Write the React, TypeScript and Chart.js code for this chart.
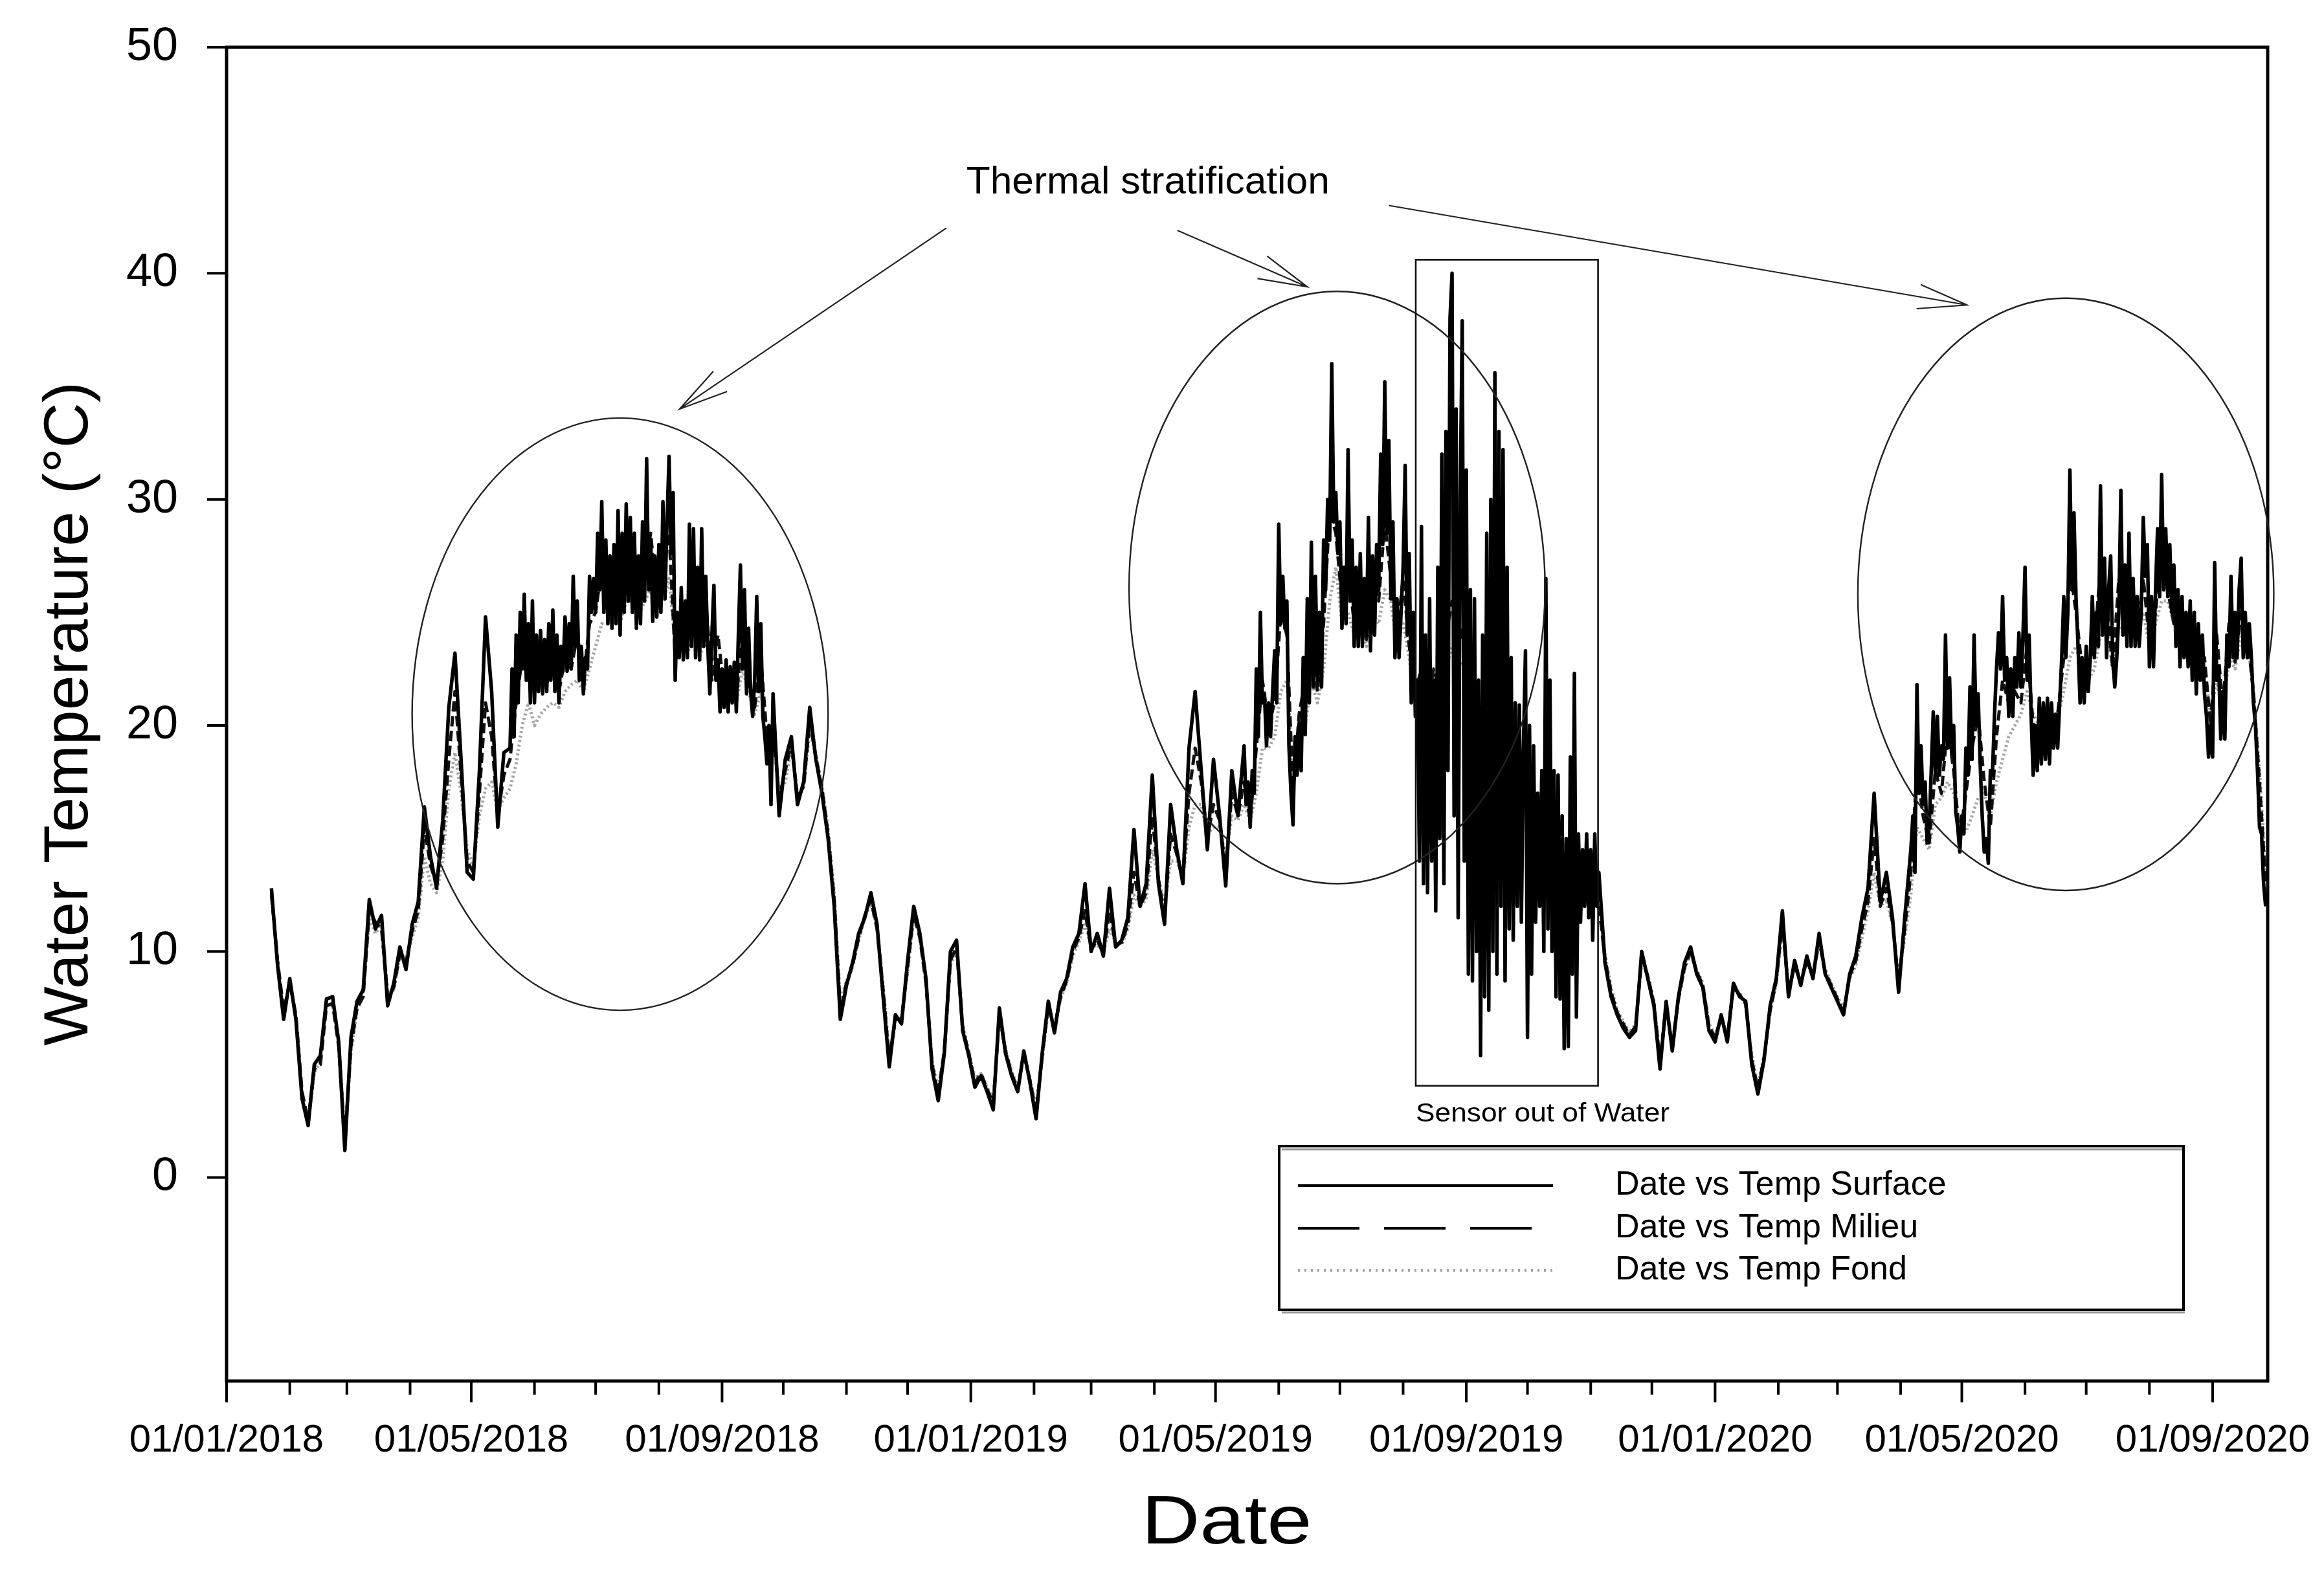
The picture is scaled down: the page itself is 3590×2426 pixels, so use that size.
import React, { useEffect, useRef } from 'react';
import { Chart, registerables } from 'chart.js';

Chart.register(...registerables);

const W = 3590;
const H = 2426;
const FONT = '"Liberation Sans", Arial, Helvetica, sans-serif';

// ---- axis definitions (x = days counted from 01/01/2018) ----
const X_MIN = 0;
const X_MAX = 1001;
const Y_MIN = -9;
const Y_MAX = 50;
const Y_TICKS = [0, 10, 20, 30, 40, 50];
const X_TICK_DAYS = [0, 120, 243, 365, 485, 608, 730, 851, 974];
const X_TICK_LABELS = [
  '01/01/2018', '01/05/2018', '01/09/2018',
  '01/01/2019', '01/05/2019', '01/09/2019',
  '01/01/2020', '01/05/2020', '01/09/2020',
];

const SERIES_LABELS = ['Date vs Temp Surface', 'Date vs Temp Milieu', 'Date vs Temp Fond'];

// ---- sampling: 3-day grid from 23/01/2018 (day 22); surface read daily in summers ----
const FIRST_DAY = 22;
const STEP_DAYS = 3;

// Surface, 3-day, 23/01/2018 -> 17/05/2018 (days 22..136)
const SURFACE_SPRING_2018 = [
  12.8, 9.4, 7.0, 8.8, 7.0, 3.5, 2.3, 5.0, 5.4, 7.9, 8.0, 6.0, 1.2, 6.2, 7.8, 8.3, 12.3, 11.0, 11.6, 7.6,
  8.6, 10.2, 9.2, 11.2, 12.2, 16.4, 14.2, 12.8, 15.8, 20.8, 23.2, 18.5, 13.5, 13.2, 18.0, 24.8, 21.5, 15.5, 18.8,
];

// Surface, daily, 20/05/2018 -> 26/09/2018 (days 139..268)
const SURFACE_SUMMER_2018 = [
  19.0, 22.5, 19.5, 24.0, 21.0, 25.0, 22.5, 25.8, 22.0, 24.5,
  21.0, 25.5, 21.0, 24.0, 21.5, 24.2, 21.4, 23.8, 21.5, 24.5,
  22.0, 25.1, 21.5, 24.0, 21.0, 23.5, 22.4, 24.8, 22.4, 24.5,
  22.5, 26.6, 23.5, 25.5, 22.0, 23.5, 21.4, 23.0, 22.5, 26.6,
  25.0, 26.5, 25.0, 28.5, 26.0, 29.9, 25.0, 28.2, 24.5, 27.5,
  24.3, 28.0, 24.5, 29.5, 24.0, 28.5, 25.0, 29.8, 25.5, 29.2,
  25.0, 28.5, 24.3, 27.5, 24.5, 29.0, 25.5, 31.8, 26.0, 28.2,
  24.6, 27.5, 24.8, 28.0, 25.0, 29.9, 25.6, 29.0, 31.9, 27.6,
  30.3, 22.0, 25.0, 23.0, 26.1, 22.9, 25.5, 23.0, 28.9, 23.5,
  28.7, 23.0, 27.0, 22.9, 28.7, 23.5, 26.6, 23.5, 21.4, 24.0,
  26.2, 22.0, 22.9, 20.6, 22.5, 20.8, 22.9, 20.6, 22.6, 21.0,
  22.8, 20.6, 24.0, 27.1, 22.5, 26.0, 21.4, 24.3, 21.5, 20.4,
  22.0, 25.7, 21.5, 24.5, 20.4, 19.5, 18.3, 20.0, 16.5, 21.4,
];

// Surface, 3-day, 29/09/2018 -> 12/05/2019 (days 271..496)
const SURFACE_WINTER_2019 = [
  16.0, 18.5,
  19.5, 16.5, 17.5, 20.8, 18.5, 17.0, 15.0, 12.0, 7.0, 8.5, 9.5, 10.8, 11.5, 12.6, 11.2, 8.0, 4.9, 7.2, 6.8, 9.6,
  12.0, 10.8, 8.8, 4.8, 3.4, 5.5, 10.0, 10.5, 6.5, 5.4, 4.0, 4.5, 3.8, 3.0, 7.5, 5.5, 4.5, 3.8, 5.6, 4.2, 2.6, 5.5,
  7.8, 6.4, 8.2, 8.8, 10.2, 10.8, 13.0, 10.0, 10.8, 9.8, 12.8, 10.2, 10.5, 11.5, 15.4, 12.0, 13.0, 17.8, 13.0, 11.2,
  16.5, 14.5, 13.0, 19.0, 21.5, 18.0, 14.5, 18.5, 16.0, 12.9, 18.0, 16.0,
];

// Surface, daily, 15/05/2019 -> 05/11/2019 (days 499..673, sensor out of water from 08/08)
const SURFACE_SUMMER_2019 = [
  19.1, 16.5, 17.5, 15.5, 18.0, 17.0, 22.5, 19.5, 25.0, 21.0,
  21.4, 19.1, 21.0, 19.5, 21.5, 23.3, 21.0, 28.9, 24.5, 26.6,
  24.3, 25.5, 19.1, 17.0, 15.6, 19.5, 17.8, 20.1, 18.0, 23.0,
  19.6, 25.6, 21.0, 28.1, 21.7, 26.6, 22.0, 25.0, 21.7, 28.2,
  26.0, 30.0, 28.2, 36.0, 29.0, 30.3, 27.6, 29.0, 24.3, 27.0,
  24.5, 32.2, 25.5, 28.2, 23.5, 27.0, 23.5, 27.6, 23.5, 26.5,
  24.0, 29.2, 23.3, 27.5, 24.0, 28.0, 26.0, 32.0, 28.0, 35.2,
  28.5, 32.6, 25.6, 29.0, 23.0, 25.6, 23.0, 25.0, 27.0, 31.5,
  24.0, 27.6, 21.0, 25.0, 20.4,
  22, 14, 28.8, 13, 24, 12.6, 25.6, 14, 22, 11.8,
  27, 15, 32, 13, 33, 18, 38, 40, 16, 34,
  11.5, 30, 37.9, 14, 31.3, 9, 26, 8.7, 25.6, 10,
  22, 5.4, 24, 8, 28.5, 7.4, 30, 10, 35.6, 9.0,
  33, 12, 32.2, 8.7, 27, 11, 23, 10.5, 21, 12,
  20.9, 11.3, 19, 23.3, 6.2, 20, 9, 19.1, 11.3, 17,
  12, 18, 10, 26.5, 11, 22, 10.0, 18, 8, 17.8,
  7.9, 16, 5.7, 15, 5.8, 18.6, 9, 22.3, 7.1, 15.2,
  11.3, 14.5, 12, 15.2, 11.5, 14.5, 10.5, 15.2, 12, 13.5,
];

// Surface, 3-day, 08/11/2019 -> 02/04/2020 (days 676..823)
const SURFACE_WINTER_2020 = [
  9.5, 8.0, 7.2, 6.6, 6.2, 6.5, 10.0, 8.8, 7.6, 4.8, 7.8, 5.6, 8.0, 9.5, 10.2, 9.0, 8.4, 6.5, 6.0, 7.2,
  6.0, 8.6, 8.0, 7.8, 5.0, 3.7, 5.2, 7.6, 8.8, 11.8, 8.0, 9.6, 8.5, 9.8, 8.8, 10.8,
  9.0, 8.4, 7.8, 7.2, 9.0, 9.8, 11.5, 12.8, 17.0, 12.2, 13.5, 11.5, 8.2, 11.5,
];

// Surface, daily, 05/04/2020 -> 26/09/2020 (days 826..1000)
const SURFACE_SUMMER_2020 = [
  14.5, 16.0, 13.5, 21.8, 17.0, 19.1, 16.5, 17.5, 14.8, 15.5,
  18.0, 20.6, 17.8, 20.4, 17.8, 19.1, 18.5, 24.0, 19.0, 22.1,
  18.8, 20.0, 16.2, 15.5, 14.4, 16.0, 15.2, 19.0, 17.8, 21.7,
  18.5, 24.0, 20.0, 21.4, 18.3, 16.0, 14.4, 15.0, 13.9, 18.0,
  17.8, 20.4, 22.5, 24.1, 22.5, 25.7, 22.0, 23.0, 20.4, 22.5,
  20.4, 23.0, 21.7, 24.1, 21.7, 24.0, 27.0, 22.0, 24.0, 20.4,
  17.8, 20.0, 18.0, 21.2, 18.3, 21.0, 18.5, 21.2, 18.3, 21.0,
  19.0, 20.5, 19.0, 21.0, 23.0, 25.7, 23.0, 25.0, 31.3, 26.0,
  29.4, 25.7, 23.5, 21.0, 23.0, 21.0, 23.5, 21.5, 23.0, 25.7,
  23.0, 25.0, 23.5, 30.6, 24.0, 27.4, 23.0, 26.0, 27.5, 23.0,
  21.7, 23.0, 25.0, 30.4, 24.0, 27.1, 23.5, 28.5, 23.5, 26.5,
  23.5, 25.7, 23.5, 25.0, 29.2, 26.6, 28.0, 22.6, 25.7, 22.6,
  26.0, 28.7, 25.7, 31.1, 26.0, 28.7, 25.7, 28.0, 25.0, 27.1,
  23.5, 26.0, 22.6, 25.7, 23.0, 25.0, 22.6, 25.5, 22.0, 25.0,
  21.4, 24.5, 22.0, 24.0, 21.4, 20.4, 18.6, 20.0, 18.6, 27.2,
  22.0, 22.6, 19.4, 21.5, 19.4, 24.0, 22.6, 26.6, 23.0, 25.0,
  23.0, 26.0, 27.4, 23.0, 25.0, 23.0, 24.5, 23.0, 21.0, 20.0,
  18.0, 15.5, 15.2, 13.0, 12.0,
];

// Milieu, 3-day grid, 23/01/2018 -> 27/09/2020
const MILIEU = [
  12.5, 9.6, 7.4, 8.6, 7.2, 3.8, 2.5, 4.8, 5.0, 7.6, 7.7, 5.8, 1.6, 5.8, 7.5, 8.0, 11.8, 11.3, 11.0, 8.0, 8.4, 9.9,
  9.5, 10.9, 11.8, 15.5, 13.8, 13.0, 15.0, 18.5, 21.5, 17.8, 14.0, 13.5, 17.0, 21.0, 19.5, 16.0, 17.8, 18.5, 21.0, 23.0, 22.0,
  21.8, 22.5, 21.8, 23.0, 21.5, 23.0, 22.5, 24.0, 22.0, 24.5, 25.0, 27.0, 25.5, 26.5, 25.0, 27.0, 27.5, 25.0, 27.0, 28.5,
  25.5, 27.5, 28.5, 23.0, 25.0, 23.5, 26.0, 23.5, 25.5, 22.0, 24.0, 21.5, 22.0, 21.0, 24.5, 22.0, 20.8, 23.0, 19.5, 20.0, 16.8, 18.0,
  19.2, 16.8, 17.3, 20.2, 18.6, 17.2, 15.2, 12.3, 7.4, 8.6, 9.4, 10.6, 11.6, 12.3, 11.0, 8.3, 5.2, 7.0, 7.0, 9.3,
  11.7, 10.6, 8.6, 5.0, 3.7, 5.6, 9.6, 10.2, 6.6, 5.5, 4.2, 4.6, 3.9, 3.3, 7.2, 5.6, 4.6, 3.9, 5.5, 4.3, 2.9, 5.4,
  7.6, 6.6, 8.0, 8.7, 10.0, 10.6, 11.8, 10.1, 10.5, 9.9, 11.8, 10.3, 10.4, 11.2, 13.5, 12.0, 12.6, 16.0, 13.2, 11.6,
  15.2, 14.3, 13.2, 17.0, 19.0, 17.5, 15.0, 16.5, 15.8, 13.6, 17.0, 16.0, 17.5, 15.8, 19.0, 22.0, 20.0, 21.0, 25.0, 24.0, 17.0, 20.5, 22.0,
  24.0, 21.5, 24.5, 29.5, 28.5, 25.5, 27.0, 24.5, 25.5, 23.8, 26.5, 25.5, 29.0, 26.5, 24.0, 26.5, 23.5, 21.5, 22.5, 21.0,
  22.5, 21.5, 24.0, 25.5, 23.5, 24.5, 21.5, 20.5, 19.0, 21.0, 23.0, 20.0, 19.0, 17.5, 17.0, 18.0, 16.0, 16.5, 15.5, 16.5,
  15.0, 14.5, 14.0, 15.5, 13.5, 14.0, 13.0, 12.0,
  9.7, 8.2, 7.3, 6.8, 6.3, 6.7, 9.7, 8.9, 7.7, 5.1, 7.6, 5.8, 7.9, 9.3, 10.0, 9.1, 8.5, 6.7, 6.2, 7.1,
  6.2, 8.4, 8.1, 7.7, 5.2, 3.9, 5.3, 7.4, 8.7, 11.3, 8.2, 9.4, 8.6, 9.6, 8.9, 10.5,
  9.1, 8.5, 7.9, 7.3, 8.9, 9.6, 11.0, 12.2, 15.0, 12.0, 12.8, 11.3, 8.6, 11.0, 13.5, 18.0, 16.0, 14.8, 18.0, 17.0,
  20.0, 18.0, 15.0, 17.0, 19.0, 20.5, 17.5, 15.5, 19.5, 22.0, 21.0, 21.5, 21.0, 23.5, 20.0, 19.5, 20.5, 19.8, 20.5, 23.0,
  27.0, 25.0, 22.5, 22.5, 23.5, 27.0, 25.5, 22.5, 26.5, 24.0, 26.0, 24.0, 26.5, 23.8, 25.0, 28.0, 26.0, 24.5, 25.5, 23.5,
  24.0, 22.5, 23.0, 20.0, 24.0, 20.8, 24.5, 22.8, 25.0, 24.0, 21.5, 17.5, 13.0,
];

// Fond, 3-day grid, 23/01/2018 -> 27/09/2020
const FOND = [
  12.6, 9.5, 7.2, 8.7, 7.0, 3.6, 2.4, 4.6, 5.2, 7.7, 7.6, 6.1, 1.8, 5.5, 7.4, 8.1, 11.5, 10.8, 11.2, 8.2, 8.3, 9.8,
  9.8, 10.6, 11.5, 14.2, 13.0, 12.6, 14.0, 17.2, 18.8, 17.0, 14.5, 13.8, 16.0, 17.2, 17.5, 16.2, 16.8, 17.2, 18.3, 20.0, 21.0,
  20.0, 20.5, 20.8, 21.0, 20.8, 21.5, 21.8, 22.0, 21.5, 22.5, 23.5, 24.5, 24.5, 25.0, 24.5, 25.5, 25.5, 24.8, 25.5, 26.0,
  25.0, 25.5, 26.5, 23.5, 23.8, 23.2, 24.0, 23.0, 24.0, 22.0, 22.5, 21.2, 21.5, 21.0, 22.5, 21.5, 20.5, 21.5, 19.5, 19.8, 17.0, 17.5,
  19.0, 17.0, 17.2, 19.8, 18.7, 17.4, 15.4, 12.6, 7.8, 8.7, 9.3, 10.5, 11.5, 12.1, 11.1, 8.5, 5.5, 6.9, 7.1, 9.1,
  11.5, 10.7, 8.7, 5.2, 3.9, 5.6, 9.4, 10.0, 6.8, 5.6, 4.4, 4.6, 4.0, 3.5, 7.0, 5.7, 4.7, 4.0, 5.4, 4.4, 3.1, 5.2,
  7.5, 6.7, 7.9, 8.6, 9.8, 10.4, 11.2, 10.2, 10.3, 10.0, 11.0, 10.4, 10.3, 11.0, 12.5, 12.0, 12.3, 14.5, 13.3, 12.0,
  14.0, 14.0, 13.3, 15.5, 16.5, 16.5, 15.2, 15.5, 15.5, 14.2, 16.0, 15.8, 16.5, 15.8, 17.0, 19.0, 19.0, 19.5, 21.5, 22.0, 18.0, 19.0, 20.0,
  22.0, 21.0, 22.5, 25.5, 27.0, 24.5, 25.0, 24.0, 24.5, 23.5, 25.0, 24.5, 26.0, 25.5, 23.5, 24.5, 23.0, 21.0, 21.5, 20.5,
  21.5, 21.0, 22.5, 23.5, 22.5, 23.0, 21.0, 20.0, 19.5, 20.0, 21.5, 19.5, 18.5, 17.5, 16.8, 17.0, 16.2, 16.0, 15.5, 15.8,
  15.0, 14.8, 14.2, 14.5, 13.8, 13.8, 13.2, 12.2,
  9.9, 8.4, 7.4, 6.9, 6.4, 6.8, 9.5, 9.0, 7.8, 5.3, 7.5, 5.9, 7.8, 9.2, 9.9, 9.2, 8.6, 6.8, 6.3, 7.0,
  6.3, 8.3, 8.2, 7.6, 5.4, 4.1, 5.4, 7.3, 8.6, 11.0, 8.3, 9.3, 8.7, 9.5, 9.0, 10.3,
  9.2, 8.6, 8.0, 7.5, 8.8, 9.4, 10.6, 11.8, 13.5, 12.0, 12.3, 11.2, 8.9, 10.6, 12.5, 15.5, 15.0, 14.5, 16.5, 16.8,
  17.5, 17.0, 15.5, 15.3, 16.0, 16.8, 17.0, 16.0, 17.5, 18.5, 19.5, 20.0, 20.5, 21.5, 20.5, 20.0, 20.3, 20.0, 20.3, 21.5,
  23.0, 23.5, 22.5, 22.0, 22.5, 24.0, 24.5, 22.5, 24.5, 24.0, 25.0, 24.0, 25.0, 23.5, 24.5, 25.5, 25.5, 24.5, 25.0, 23.5,
  23.5, 22.5, 22.5, 20.5, 22.0, 20.5, 23.0, 22.5, 24.0, 23.8, 21.5, 18.0, 13.5,
];

// ---- annotations, in data units (days, °C) ----
const ELLIPSES = [
  { cx: 193, cy: 20.5, rx: 102, ry: 13.1 },
  { cx: 544.6, cy: 26.1, rx: 102, ry: 13.1 },
  { cx: 902, cy: 25.8, rx: 102, ry: 13.1 },
];
const SENSOR_BOX = { x0: 583.2, x1: 672.6, y0: 4.06, y1: 40.6 };
const ARROWS = [
  { x0: 353, y0: 42.0, x1: 222.2, y1: 34.0 },
  { x0: 466.3, y0: 41.9, x1: 530, y1: 39.4 },
  { x0: 570, y0: 43.0, x1: 853.5, y1: 38.6 },
];
const THERMAL_TEXT = { x: 362.8, y: 44.0, text: 'Thermal stratification' };
const SENSOR_TEXT = { x: 583.2, y: 2.8, text: 'Sensor out of Water' };

const MONTH_TICKS = (() => {
  const out: { day: number; major: boolean }[] = [];
  const base = Date.UTC(2018, 0, 1);
  for (let yr = 2018; yr <= 2020; yr++) {
    for (let m = 0; m < 12; m++) {
      const d = Math.round((Date.UTC(yr, m, 1) - base) / 86400000);
      if (d <= X_MAX) out.push({ day: d, major: m % 4 === 0 });
    }
  }
  return out;
})();

function gridPoints(vals: number[], first: number, step: number) {
  return vals.map((v, i) => ({ x: first + i * step, y: v }));
}

const SURFACE_POINTS = [
  ...gridPoints(SURFACE_SPRING_2018, 22, 3),
  ...gridPoints(SURFACE_SUMMER_2018, 139, 1),
  ...gridPoints(SURFACE_WINTER_2019, 271, 3),
  ...gridPoints(SURFACE_SUMMER_2019, 499, 1),
  ...gridPoints(SURFACE_WINTER_2020, 676, 3),
  ...gridPoints(SURFACE_SUMMER_2020, 826, 1),
];

function drawText(
  ctx: CanvasRenderingContext2D,
  text: string,
  x: number,
  y: number,
  size: number,
  align: CanvasTextAlign,
  targetWidth?: number,
  rotate?: number,
) {
  ctx.save();
  ctx.font = `${size}px ${FONT}`;
  const w = ctx.measureText(text).width;
  const sx = targetWidth ? targetWidth / w : 1;
  ctx.translate(x, y);
  if (rotate) ctx.rotate(rotate);
  ctx.scale(sx, 1);
  ctx.fillStyle = '#000';
  ctx.textAlign = align;
  ctx.textBaseline = 'middle';
  ctx.fillText(text, 0, 0);
  ctx.restore();
}

const decorPlugin = {
  id: 'decor',
  beforeDraw(chart: any) {
    const ctx = chart.ctx;
    ctx.save();
    ctx.fillStyle = '#fff';
    ctx.fillRect(0, 0, chart.width, chart.height);
    ctx.restore();
  },
  afterDraw(chart: any) {
    const ctx: CanvasRenderingContext2D = chart.ctx;
    const a = chart.chartArea;
    const xs = chart.scales.x;
    const ys = chart.scales.y;
    const px = (d: number) => xs.getPixelForValue(d);
    const py = (t: number) => ys.getPixelForValue(t);
    ctx.save();

    // frame
    ctx.strokeStyle = '#000';
    ctx.lineWidth = 5;
    ctx.strokeRect(a.left, a.top, a.right - a.left, a.bottom - a.top);

    // tick marks
    ctx.lineWidth = 4;
    ctx.beginPath();
    for (const v of Y_TICKS) {
      const yy = py(v);
      ctx.moveTo(a.left - 30, yy);
      ctx.lineTo(a.left, yy);
    }
    for (const t of MONTH_TICKS) {
      const xx = px(t.day);
      ctx.moveTo(xx, a.bottom);
      ctx.lineTo(xx, a.bottom + (t.major ? 33 : 21));
    }
    ctx.stroke();

    // ellipses
    ctx.strokeStyle = '#222';
    ctx.lineWidth = 2.4;
    for (const e of ELLIPSES) {
      const cx = px(e.cx);
      const cy = py(e.cy);
      const rx = Math.abs(px(e.cx + e.rx) - cx);
      const ry = Math.abs(py(e.cy + e.ry) - cy);
      ctx.beginPath();
      ctx.ellipse(cx, cy, rx, ry, 0, 0, Math.PI * 2);
      ctx.stroke();
    }

    // sensor box
    ctx.strokeStyle = '#111';
    ctx.lineWidth = 2.6;
    ctx.strokeRect(px(SENSOR_BOX.x0), py(SENSOR_BOX.y1), px(SENSOR_BOX.x1) - px(SENSOR_BOX.x0), py(SENSOR_BOX.y0) - py(SENSOR_BOX.y1));

    // arrows
    ctx.strokeStyle = '#222';
    ctx.lineWidth = 2.2;
    for (const ar of ARROWS) {
      const x0 = px(ar.x0), y0 = py(ar.y0), x1 = px(ar.x1), y1 = py(ar.y1);
      const ang = Math.atan2(y0 - y1, x0 - x1);
      const L = 78;
      const h = (14 * Math.PI) / 180;
      ctx.beginPath();
      ctx.moveTo(x0, y0);
      ctx.lineTo(x1, y1);
      ctx.moveTo(x1 + L * Math.cos(ang + h), y1 + L * Math.sin(ang + h));
      ctx.lineTo(x1, y1);
      ctx.lineTo(x1 + L * Math.cos(ang - h), y1 + L * Math.sin(ang - h));
      ctx.stroke();
    }

    // annotation texts
    drawText(ctx, THERMAL_TEXT.text, px(THERMAL_TEXT.x), py(THERMAL_TEXT.y), 60, 'left', 561);
    drawText(ctx, SENSOR_TEXT.text, px(SENSOR_TEXT.x), py(SENSOR_TEXT.y), 40, 'left', 392);

    // axis titles
    drawText(ctx, 'Water Temperature (°C)', 109, 1103, 96, 'center', 1026, -Math.PI / 2);
    drawText(ctx, 'Date', 1895, 2356, 106, 'center', 263);

    // legend
    const L = { left: 1976, top: 1771, right: 3373, bottom: 2024 };
    ctx.fillStyle = '#fff';
    ctx.fillRect(L.left, L.top, L.right - L.left, L.bottom - L.top);
    ctx.strokeStyle = '#9a9a9a';
    ctx.lineWidth = 3;
    ctx.beginPath();
    ctx.moveTo(L.left + 4, L.top + 5);
    ctx.lineTo(L.right - 2, L.top + 5);
    ctx.moveTo(L.left + 4, L.bottom + 4);
    ctx.lineTo(L.right + 2, L.bottom + 4);
    ctx.stroke();
    ctx.strokeStyle = '#000';
    ctx.lineWidth = 4;
    ctx.strokeRect(L.left, L.top, L.right - L.left, L.bottom - L.top);
    const rows = [1832, 1898, 1963];
    const styles = [
      { color: '#000', dash: [] as number[], width: 4 },
      { color: '#000', dash: [95, 38], width: 4 },
      { color: '#a0a0a0', dash: [3, 7], width: 4 },
    ];
    rows.forEach((ry, i) => {
      ctx.save();
      ctx.strokeStyle = styles[i].color;
      ctx.lineWidth = styles[i].width;
      ctx.setLineDash(styles[i].dash);
      ctx.beginPath();
      ctx.moveTo(2005, ry);
      ctx.lineTo(i === 1 ? 2366 : 2399, ry);
      ctx.stroke();
      ctx.restore();
      drawText(ctx, SERIES_LABELS[i], 2495, ry, 52, 'left');
    });

    ctx.restore();
  },
};

export default function App() {
  const ref = useRef<HTMLCanvasElement | null>(null);

  useEffect(() => {
    document.body.style.margin = '0';
    document.body.style.overflow = 'hidden';
    const canvas = ref.current;
    if (!canvas) return;
    const chart = new Chart(canvas, {
      type: 'line',
      data: {
        datasets: [
          {
            label: SERIES_LABELS[0],
            data: SURFACE_POINTS,
            borderColor: '#000',
            borderWidth: 5.5,
            borderJoinStyle: 'round',
            pointRadius: 0,
            tension: 0,
            fill: false,
          },
          {
            label: SERIES_LABELS[1],
            data: gridPoints(MILIEU, FIRST_DAY, STEP_DAYS),
            borderColor: '#111',
            borderWidth: 5,
            borderDash: [16, 7],
            borderJoinStyle: 'round',
            pointRadius: 0,
            tension: 0,
            fill: false,
          },
          {
            label: SERIES_LABELS[2],
            data: gridPoints(FOND, FIRST_DAY, STEP_DAYS),
            borderColor: '#a4a4a4',
            borderWidth: 5,
            borderDash: [3, 4],
            borderJoinStyle: 'round',
            pointRadius: 0,
            tension: 0,
            fill: false,
          },
        ],
      },
      options: {
        responsive: false,
        maintainAspectRatio: false,
        animation: false,
        devicePixelRatio: 1,
        events: [],
        layout: { padding: { left: 0, top: 73, right: 87, bottom: 0 } },
        plugins: {
          legend: { display: false },
          tooltip: { enabled: false },
          title: { display: false },
        },
        scales: {
          x: {
            type: 'linear',
            min: X_MIN,
            max: X_MAX,
            grid: { display: false, drawTicks: false },
            border: { display: false },
            afterBuildTicks: (s: any) => {
              s.ticks = MONTH_TICKS.map((t) => ({ value: t.day }));
            },
            afterFit: (s: any) => {
              s.height = 292;
              s.paddingLeft = 0;
              s.paddingRight = 0;
              s.paddingTop = 0;
              s.paddingBottom = 0;
            },
            ticks: {
              autoSkip: false,
              maxRotation: 0,
              minRotation: 0,
              padding: 56,
              color: '#000',
              font: { family: FONT, size: 60 },
              callback: (v: any) => {
                const i = X_TICK_DAYS.indexOf(Math.round(Number(v)));
                return i >= 0 ? X_TICK_LABELS[i] : '';
              },
            },
          },
          y: {
            type: 'linear',
            min: Y_MIN,
            max: Y_MAX,
            grid: { display: false, drawTicks: false },
            border: { display: false },
            afterBuildTicks: (s: any) => {
              s.ticks = Y_TICKS.map((v) => ({ value: v }));
            },
            afterFit: (s: any) => {
              s.width = 350;
              s.paddingLeft = 0;
              s.paddingRight = 0;
              s.paddingTop = 0;
              s.paddingBottom = 0;
            },
            ticks: {
              padding: 75,
              color: '#000',
              font: { family: FONT, size: 72 },
              callback: (v: any) => String(v),
            },
          },
        },
      },
      plugins: [decorPlugin],
    } as any);
    return () => chart.destroy();
  }, []);

  return (
    <div style={{ position: 'absolute', left: 0, top: 0, width: W, height: H, background: '#fff' }}>
      <canvas ref={ref} width={W} height={H} style={{ width: W, height: H, display: 'block' }} />
    </div>
  );
}
